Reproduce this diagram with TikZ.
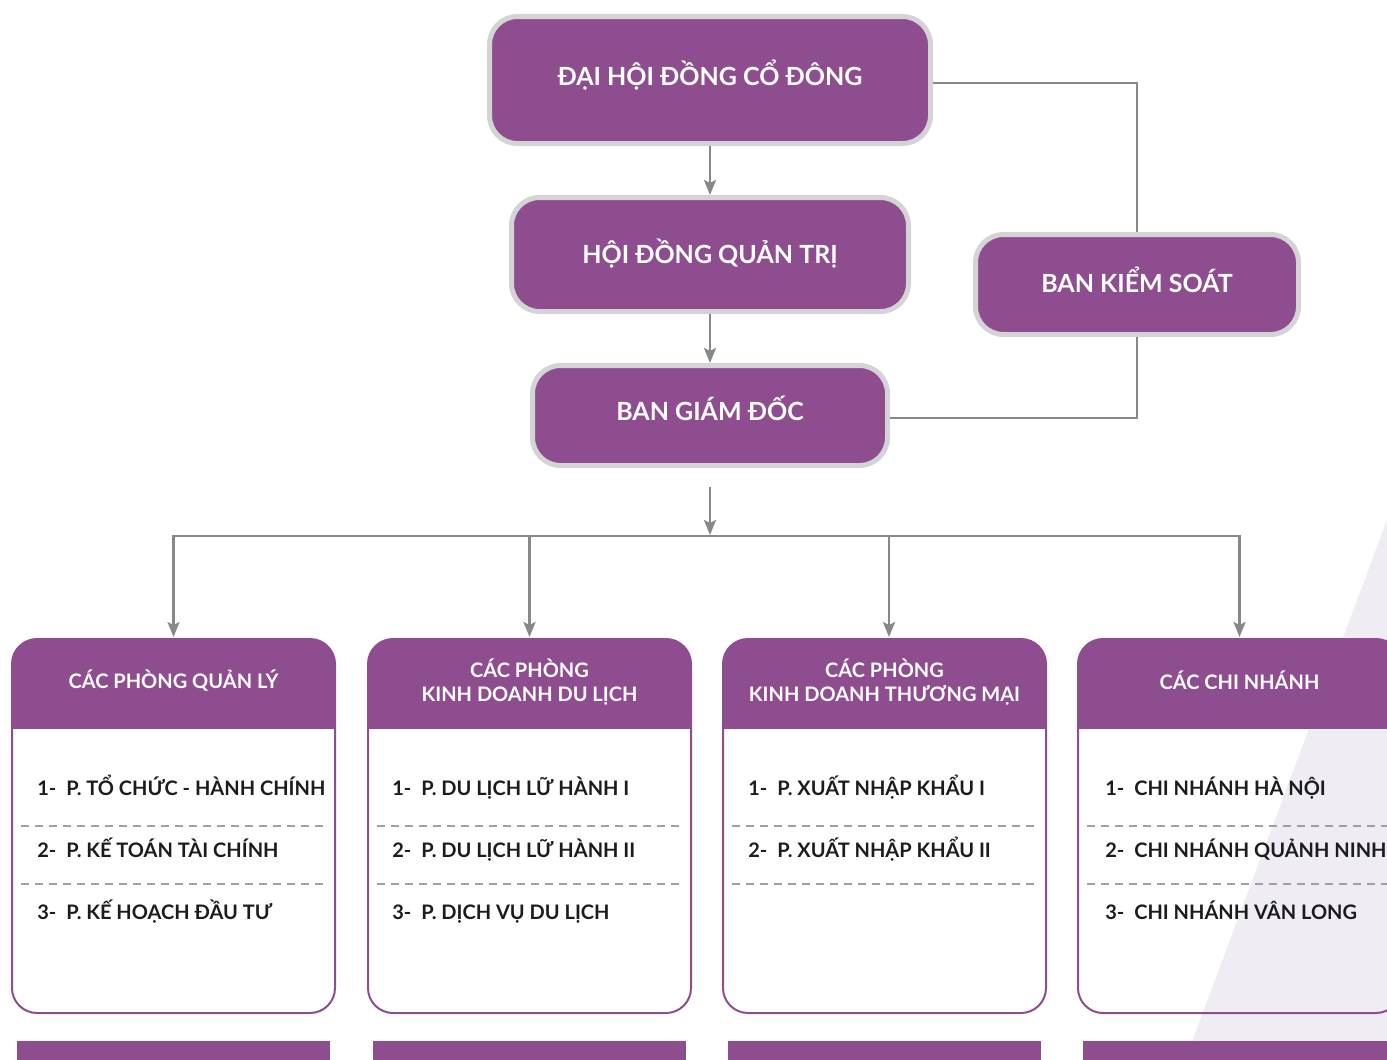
\documentclass[tikz,border=0pt]{standalone}
\usepackage{fontspec}
\setmainfont{Lato}
\usetikzlibrary{arrows.meta,calc}
\definecolor{tim}{RGB}{142,77,142}
\definecolor{xam}{RGB}{136,136,140}
\definecolor{vien}{RGB}{212,212,215}
\definecolor{nen}{RGB}{239,237,243}
\definecolor{chu}{RGB}{28,28,30}

\begin{document}
\begin{tikzpicture}[x=1pt, y=-1pt, every node/.style = {shape=rectangle, align=center, inner sep=0pt}, line width=2.5pt]
	\tikzstyle{top} = [rounded corners=28pt, fill=tim, draw=vien, line width=5pt, text=white, text height=18pt, text depth=0pt, font=\bfseries\fontsize{25}{30}\selectfont]
	\tikzstyle{khung} = [rounded corners=25pt, draw=tim, line width=2pt, minimum width=323pt, minimum height=374pt]
	\tikzstyle{nen tieude} = [rounded corners=25pt, fill=tim, minimum width=323pt, minimum height=88pt]
	\tikzstyle{tieude} = [text=white, font=\bfseries\fontsize{20}{24}\selectfont]
	\tikzstyle{muc} = [anchor=base west, text=chu, font=\bfseries\fontsize{20}{24}\selectfont]
	\tikzstyle{duong} = [draw=xam, line width=2.5pt]
	\tikzstyle{mui} = [duong, -{Stealth[length=15pt, width=12pt, inset=3pt]}]
	\tikzstyle{gach} = [draw=xam!80, line width=1.5pt, dash pattern=on 8pt off 6pt]
	\newcommand{\so}[1]{\makebox[29pt][l]{#1}}
	\useasboundingbox (0,0) rectangle (1387,1060);
	\fill[nen] (1387,520) -- (1387,1060) -- (1185,1060) -- cycle;

	\node[top, minimum width=441pt, minimum height=127pt, text depth=8pt] (dhdcd) at (710,80) {ĐẠI HỘI ĐỒNG CỔ ĐÔNG};
	\node[top, minimum width=397pt, minimum height=114pt] (hdqt) at (710,254.5) {HỘI ĐỒNG QUẢN TRỊ};
	\node[top, minimum width=355pt, minimum height=100pt, text depth=8pt] (bgd) at (710,415.5) {BAN GIÁM ĐỐC};
	\node[top, minimum width=323pt, minimum height=100pt, text depth=2pt] (bks) at (1137,284.5) {BAN KIỂM SOÁT};

	\node[khung] (pql) at (173.5,826) {};
	\node[khung] (pdl) at (529.5,826) {};
	\node[khung] (ptm) at (884.5,826) {};
	\node[khung] (cn) at (1239.5,826) {};
	\foreach \b in {pql,pdl,ptm,cn} {
		\node[nen tieude, anchor=north] (n\b) at (\b.north) {};
		\fill[tim] (n\b.west) rectangle (n\b.south east);
		\draw[gach] ($(\b.west)+(10,0)$) -- ($(\b.east)+(-9,0)$);
		\draw[gach] ($(\b.west)+(10,58)$) -- ($(\b.east)+(-9,58)$);
		\fill[tim] ($(\b.south west)+(6,27)$) rectangle ($(\b.south east)+(-6,60)$);
	}
	\node[tieude] (hpql) at ($(npql)+(0,-3)$) {CÁC PHÒNG QUẢN LÝ};
	\node[tieude] (hpdl) at ($(npdl)+(0,-1)$) {CÁC PHÒNG\\KINH DOANH DU LỊCH};
	\node[tieude] (hptm) at ($(nptm)+(0,-1)$) {CÁC PHÒNG\\KINH DOANH THƯƠNG MẠI};
	\node[tieude] (hcn) at ($(ncn)+(0,-3)$) {CÁC CHI NHÁNH};

	\node[muc] (pql1) at ($(pql.west)+(25,-31)$) {\so{1-}P. TỔ CHỨC - HÀNH CHÍNH};
	\node[muc] (pql2) at ($(pql.west)+(25,31)$) {\so{2-}P. KẾ TOÁN TÀI CHÍNH};
	\node[muc] (pql3) at ($(pql.west)+(25,93)$) {\so{3-}P. KẾ HOẠCH ĐẦU TƯ};
	\node[muc] (pdl1) at ($(pdl.west)+(24,-31)$) {\so{1-}P. DU LỊCH LỮ HÀNH I};
	\node[muc] (pdl2) at ($(pdl.west)+(24,31)$) {\so{2-}P. DU LỊCH LỮ HÀNH II};
	\node[muc] (pdl3) at ($(pdl.west)+(24,93)$) {\so{3-}P. DỊCH VỤ DU LỊCH};
	\node[muc] (ptm1) at ($(ptm.west)+(25,-31)$) {\so{1-}P. XUẤT NHẬP KHẨU I};
	\node[muc] (ptm2) at ($(ptm.west)+(25,31)$) {\so{2-}P. XUẤT NHẬP KHẨU II};
	\node[muc] (cn1) at ($(cn.west)+(27,-31)$) {\so{1-}CHI NHÁNH HÀ NỘI};
	\node[muc] (cn2) at ($(cn.west)+(27,31)$) {\so{2-}CHI NHÁNH QUẢNH NINH};
	\node[muc] (cn3) at ($(cn.west)+(27,93)$) {\so{3-}CHI NHÁNH VÂN LONG};

	\draw[mui] (dhdcd) -- (hdqt);
	\draw[mui] (hdqt) -- (bgd);
	\draw[duong] ([yshift=-3pt]dhdcd.east) -| (bks.north);
	\draw[duong] (bks.south) |- ([yshift=-2.5pt]bgd.east);
	\coordinate (bus) at (710,536);
	\draw[mui] ([yshift=-19pt]bgd.south) -- ([yshift=1pt]bus);
	\draw[duong] ([xshift=-1.5pt]bus -| pql) -- ([xshift=1.5pt]bus -| cn);
	\draw[mui] (bus -| pql) -- ([yshift=1pt]pql.north);
	\draw[mui] (bus -| pdl) -- ([yshift=1pt]pdl.north);
	\draw[mui] ([xshift=4.5pt]bus -| ptm) -- ([xshift=4.5pt, yshift=1pt]ptm.north);
	\draw[mui] (bus -| cn) -- ([yshift=1pt]cn.north);
\end{tikzpicture}
\end{document}
